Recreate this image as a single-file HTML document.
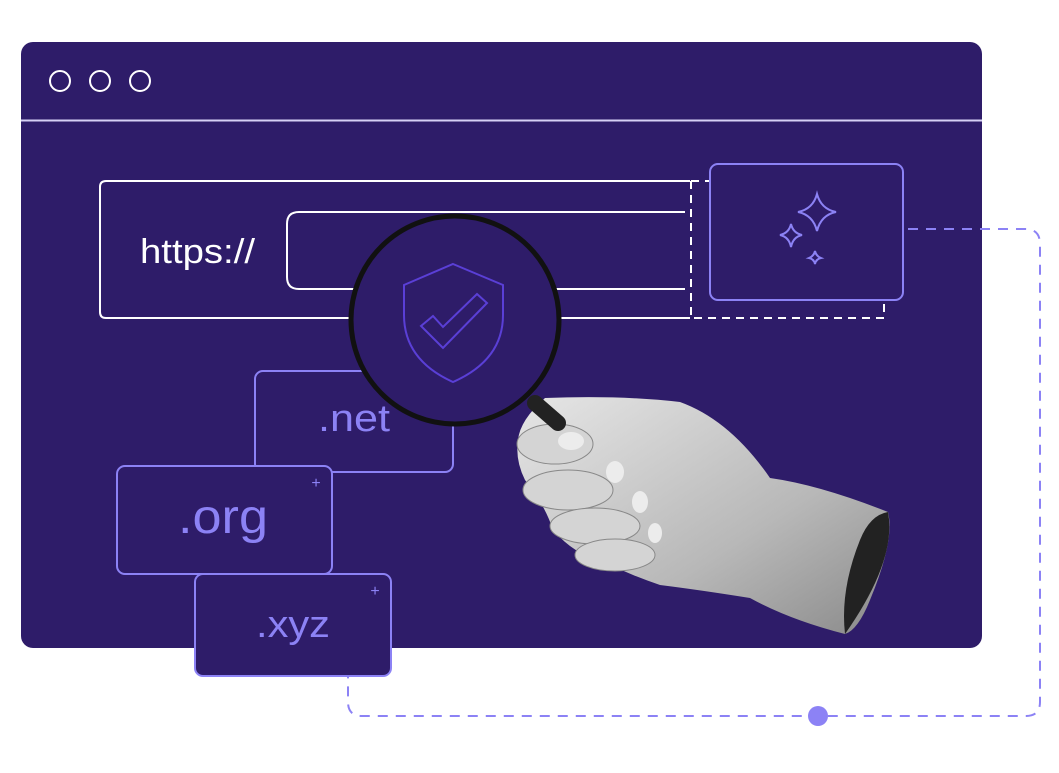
<!DOCTYPE html>
<html><head><meta charset="utf-8"><style>
html,body{margin:0;padding:0;background:#fff;}
body{width:1059px;height:768px;overflow:hidden;font-family:"Liberation Sans",sans-serif;}
</style></head><body>
<svg width="1059" height="768" viewBox="0 0 1059 768" xmlns="http://www.w3.org/2000/svg">
<defs>
<linearGradient id="hg" x1="0" y1="0" x2="1" y2="1">
<stop offset="0" stop-color="#e6e6e6"/><stop offset="0.6" stop-color="#b8b8b8"/><stop offset="1" stop-color="#8a8a8a"/>
</linearGradient>
</defs>
<rect x="21" y="42" width="961" height="606" rx="12" fill="#2e1c69"/>
<line x1="21" y1="120.5" x2="982" y2="120.5" stroke="#d6d0f5" stroke-width="2"/>
<circle cx="60" cy="81" r="10" fill="none" stroke="#fff" stroke-width="2"/>
<circle cx="100" cy="81" r="10" fill="none" stroke="#fff" stroke-width="2"/>
<circle cx="140" cy="81" r="10" fill="none" stroke="#fff" stroke-width="2"/>
<path d="M908 229 H1025 Q1040 229 1040 244 V702 Q1040 716 1026 716 H362 Q348 716 348 702 V676" fill="none" stroke="#8c82f5" stroke-width="2" stroke-dasharray="10 8"/>
<circle cx="818" cy="716" r="10" fill="#8c82f5"/>
<path d="M690 181 H106 Q100 181 100 187 V312 Q100 318 106 318 H690" fill="none" stroke="#fff" stroke-width="2"/>
<path d="M685 212 H299 Q287 212 287 224 V277 Q287 289 299 289 H685" fill="none" stroke="#fff" stroke-width="2"/>
<text x="140" y="263" font-size="34" fill="#fff" textLength="115" lengthAdjust="spacingAndGlyphs">https://</text>
<path d="M691 181 H712 M691 181 V318 H884 V304" fill="none" stroke="#fff" stroke-width="2" stroke-dasharray="8 6"/>
<rect x="710" y="164" width="193" height="136" rx="8" fill="#2e1c69" stroke="#8c82f5" stroke-width="2"/>
<g fill="none" stroke="#8c82f5" stroke-width="2">
<path d="M817 194 Q821 209 836 212 Q821 215 817 231 Q813 215 798 212 Q813 209 817 194Z"/>
<path d="M791 224 Q793 233 802 235 Q793 237 791 247 Q789 237 780 235 Q789 233 791 224Z"/>
<path d="M815 251 Q816 256 821 258 Q816 259 815 264 Q814 259 809 258 Q814 256 815 251Z"/>
</g>
<rect x="255" y="371" width="198" height="101" rx="8" fill="#2e1c69" stroke="#8c82f5" stroke-width="2"/>
<text x="318" y="431" font-size="38" fill="#8c82f5" textLength="72" lengthAdjust="spacingAndGlyphs">.net</text>
<rect x="117" y="466" width="215" height="108" rx="8" fill="#2e1c69" stroke="#8c82f5" stroke-width="2"/>
<text x="178" y="533" font-size="48" fill="#8c82f5" textLength="90" lengthAdjust="spacingAndGlyphs">.org</text>
<text x="316" y="488" font-size="16" fill="#8c82f5" text-anchor="middle">+</text>
<rect x="195" y="574" width="196" height="102" rx="8" fill="#2e1c69" stroke="#8c82f5" stroke-width="2"/>
<text x="256" y="637" font-size="38" fill="#8c82f5" textLength="74" lengthAdjust="spacingAndGlyphs">.xyz</text>
<text x="375" y="596" font-size="16" fill="#8c82f5" text-anchor="middle">+</text>
<!-- hand -->
<path d="M545 398 Q620 395 680 402 Q730 420 770 478 Q820 485 888 512 Q895 540 870 600 Q858 630 845 634 Q790 620 750 598 Q700 590 660 585 Q630 575 600 560 Q575 555 553 530 Q545 505 525 480 Q515 460 518 440 Q520 420 545 398Z" fill="url(#hg)"/>
<g fill="#d4d4d4" stroke="#888" stroke-width="1">
<ellipse cx="555" cy="444" rx="38" ry="20"/>
<ellipse cx="568" cy="490" rx="45" ry="20"/>
<ellipse cx="595" cy="526" rx="45" ry="18"/>
<ellipse cx="615" cy="555" rx="40" ry="16"/>
</g>
<g fill="#ececec"><ellipse cx="571" cy="441" rx="13" ry="9"/><ellipse cx="615" cy="472" rx="9" ry="11"/><ellipse cx="640" cy="502" rx="8" ry="11"/><ellipse cx="655" cy="533" rx="7" ry="10"/></g>
<path d="M888 512 Q897 560 845 634 Q840 590 860 540 Q870 515 888 512Z" fill="#222"/>
<!-- magnifier -->
<path d="M535 403 L558 423" stroke="#222" stroke-width="16" stroke-linecap="round"/>
<circle cx="455" cy="320" r="104" fill="#2e1c69" stroke="#111" stroke-width="5"/>
<path d="M453 264 L503 285 V315 Q503 360 453 382 Q404 360 404 315 V285Z" fill="none" stroke="#5a3fd6" stroke-width="2"/>
<path d="M421 326 L433 316 L443 327 L477 294 L487 303 L443 348Z" fill="none" stroke="#5a3fd6" stroke-width="2"/>
</svg>
</body></html>
